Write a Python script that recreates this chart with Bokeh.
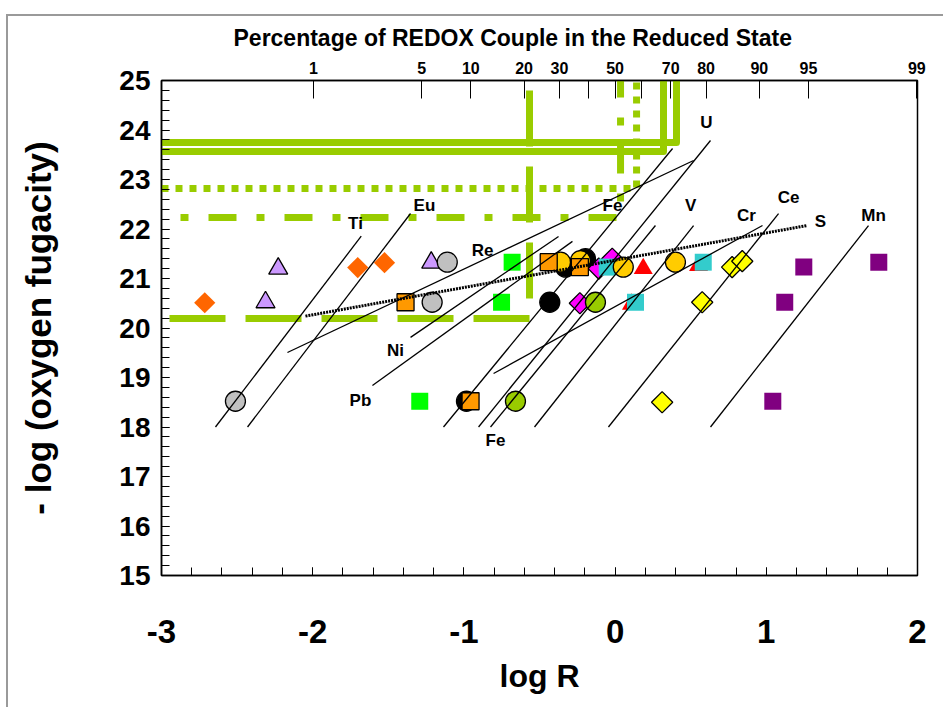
import numpy as np
from bokeh.plotting import figure
from bokeh.models import LinearAxis, FixedTicker, Range1d
from bokeh.core.properties import value
from bokeh.embed import file_html
from bokeh.resources import INLINE

FONT = "'Liberation Sans', Arial, sans-serif"

# ---------------- data ----------------
# bottom axis ticks
x_ticks = [-3, -2, -1, 0, 1, 2]
x_tick_labels = ["-3", "-2", "-1", "0", "1", "2"]
y_ticks = list(range(15, 26))

# top axis: percentage of couple in reduced state
pct_ticks = [1, 5, 10, 20, 30, 40, 50, 60, 70, 80, 90, 95, 99]
pct_labels = ["1", "5", "10", "20", "30", "", "50", "", "70", "80", "90", "95", "99"]

# redox couple lines (log R, -log fO2)
couple_names = ["Ti", "Eu", "Fe", "U", "Fe2", "V", "Ce", "Mn", "Re", "Ni", "Pb", "Cr"]
couple_x0 = [-2.643, -2.431, -1.135, -0.903, -0.824, -0.533, -0.044, 0.631, -2.167, -1.353, -1.605, -0.804]
couple_y0 = [18.0, 18.0, 18.0, 18.0, 18.0, 18.0, 18.0, 18.0, 19.505, 19.81, 18.84, 19.08]
couple_x1 = [-1.679, -1.353, 0.380, 0.631, 0.267, 0.519, 1.081, 1.676, 0.519, -0.374, -0.282, 0.975]
couple_y1 = [21.855, 22.313, 23.626, 23.788, 22.07, 22.07, 22.31, 22.07, 23.384, 21.85, 21.75, 22.07]

# sulfur couple (dotted)
s_x = [-2.048, 1.270]
s_y = [20.24, 22.07]

# element labels
lab_text = ["Ti", "Eu", "Re", "Ni", "Pb", "Fe", "Fe", "U", "V", "Cr", "Ce", "S", "Mn"]
lab_x = [-1.717, -1.261, -0.877, -1.452, -1.684, -0.791, -0.017, 0.604, 0.499, 0.869, 1.147, 1.358, 1.709]
lab_y = [22.11, 22.475, 21.566, 19.545, 18.535, 17.727, 22.475, 24.15, 22.475, 22.27, 22.636, 22.15, 22.27]

# green buffer reference lines
dbl_a_x = [-3.0, 0.406, 0.406]
dbl_a_y = [23.747, 23.747, 25.1]
dbl_b_x = [-3.0, 0.320, 0.320]
dbl_b_y = [23.566, 23.566, 25.1]
dot_x = [-3.0, 0.142, 0.142]
dot_y = [22.818, 22.818, 25.0]
dashdot_x = [-3.0, 0.036, 0.036]
dashdot_y = [22.232, 22.232, 25.0]
dash_x = [-2.947, -0.566, -0.566]
dash_y = [20.192, 20.192, 25.0]

# measured points
lav_tri_x = [-2.228, -2.312, -1.216]
lav_tri_y = [21.20, 20.52, 21.32]
orn_dia_x = [-2.714, -1.702, -1.525]
orn_dia_y = [20.51, 21.22, 21.32]
gray_x = [-1.110, -1.210, -2.511]
gray_y = [21.33, 20.52, 18.52]
grn_sq_x = [-0.681, -0.751, -1.292]
grn_sq_y = [21.33, 20.52, 18.52]
black_x = [-0.328, -0.196, -0.432, -0.983]
black_y = [21.23, 21.40, 20.52, 18.52]
gold_x = [-0.361, -0.229, 0.054, 0.399]
gold_y = [21.33, 21.36, 21.23, 21.33]
org_sq_x = [-1.386, -0.439, -0.233, -0.956]
org_sq_y = [20.52, 21.33, 21.23, 18.52]
mag_x = [-0.108, -0.019, -0.233]
mag_y = [21.20, 21.40, 20.50]
red_tri_x = [0.186, 0.552, 0.108]
red_tri_y = [21.20, 21.26, 20.48]
cyan_x = [-0.052, 0.583, 0.135]
cyan_y = [21.23, 21.33, 20.52]
olive_x = [-0.130, -0.659]
olive_y = [20.52, 18.52]
yel_x = [0.774, 0.841, 0.576, 0.311]
yel_y = [21.23, 21.35, 20.52, 18.50]
pur_x = [1.248, 1.744, 1.122, 1.043]
pur_y = [21.23, 21.33, 20.52, 18.52]

# ---------------- figure ----------------
p = figure(width=943, height=707, x_range=Range1d(-3, 2), y_range=Range1d(15, 25),
           output_backend="svg", toolbar_location=None,
           min_border_left=161, min_border_right=26, min_border_top=80, min_border_bottom=132,
           title="Percentage of REDOX Couple in the Reduced State")
p.grid.visible = False
p.outline_line_color = "black"
p.outline_line_width = 1.5
p.outline_line_alpha = 1.0
p.background_fill_color = "white"
p.border_fill_color = None
p.styles = {
    "background": "linear-gradient(#9a9a9a,#9a9a9a) 6px 14px / 937px 2px no-repeat, "
                  "linear-gradient(#9a9a9a,#9a9a9a) 6px 14px / 2px 693px no-repeat, #ffffff"
}

p.title.align = "left"
p.title.offset = 72
p.title.text_font = FONT
p.title.text_font_size = "23px"
p.title.text_font_style = "bold"
p.title.text_color = "black"
p.title.standoff = 15

# bottom axis
xa = p.xaxis[0]
xa.ticker = FixedTicker(ticks=x_ticks, minor_ticks=list(np.round(np.arange(-3, 2.001, 0.2), 3)))
xa.major_label_overrides = {t: s for t, s in zip(x_ticks, x_tick_labels)}
xa.major_tick_in = 8
xa.major_tick_out = 0
xa.minor_tick_in = 8
xa.minor_tick_out = 0
xa.major_label_standoff = 44
xa.major_label_text_font = FONT
xa.major_label_text_font_size = "33px"
xa.major_label_text_font_style = "bold"
xa.major_label_text_color = "black"
xa.axis_label = "log R"
xa.axis_label_text_font = FONT
xa.axis_label_text_font_size = "32px"
xa.axis_label_text_font_style = "bold"
xa.axis_label_text_color = "black"
xa.axis_label_standoff = 12
xa.axis_line_width = 1.5
xa.axis_line_color = "black"
xa.major_tick_line_color = "black"
xa.minor_tick_line_color = "black"

# left axis
ya = p.yaxis[0]
ya.ticker = FixedTicker(ticks=y_ticks, minor_ticks=list(np.round(np.arange(15, 25.001, 0.2), 3)))
ya.major_tick_in = 8
ya.major_tick_out = 0
ya.minor_tick_in = 8
ya.minor_tick_out = 0
ya.major_label_standoff = 11
ya.major_label_text_font = FONT
ya.major_label_text_font_size = "28px"
ya.major_label_text_font_style = "bold"
ya.major_label_text_color = "black"
ya.axis_label = "- log (oxygen fugacity)"
ya.axis_label_text_font = FONT
ya.axis_label_text_font_size = "35px"
ya.axis_label_text_font_style = "bold"
ya.axis_label_text_color = "black"
ya.axis_label_standoff = 58
ya.axis_line_width = 1.5
ya.axis_line_color = "black"
ya.major_tick_line_color = "black"
ya.minor_tick_line_color = "black"

# top axis (percentage)
pct_pos = [float(np.log10(v / (100.0 - v))) for v in pct_ticks]
top = LinearAxis(ticker=FixedTicker(ticks=pct_pos),
                 major_label_overrides={pos: lab for pos, lab in zip(pct_pos, pct_labels)})
top.major_tick_in = 18
top.major_tick_out = 0
top.minor_tick_in = 0
top.minor_tick_out = 0
top.major_label_standoff = 7
top.major_label_text_font = FONT
top.major_label_text_font_size = "16px"
top.major_label_text_font_style = "bold"
top.major_label_text_color = "black"
top.axis_line_width = 1.5
top.axis_line_color = "black"
top.major_tick_line_color = "black"
p.add_layout(top, "above")

GREEN = "#99CC00"
p.line(dbl_a_x, dbl_a_y, line_color=GREEN, line_width=7, line_cap="round", line_join="round")
p.line(dbl_b_x, dbl_b_y, line_color=GREEN, line_width=7, line_cap="round", line_join="round")
p.line(dot_x, dot_y, line_color=GREEN, line_width=7, line_dash="7 7", line_cap="butt")
p.line(dashdot_x, dashdot_y, line_color=GREEN, line_width=7, line_dash="28 20 8 20",
       line_dash_offset=29, line_cap="butt")
p.line(dash_x, dash_y, line_color=GREEN, line_width=7, line_dash="56 20", line_cap="butt")

# markers
OUT = dict(line_color="black", line_width=1.3)
DIA = np.pi / 4
p.scatter(lav_tri_x, lav_tri_y, marker="triangle", size=19, fill_color="#CC99FF", **OUT)
p.scatter(orn_dia_x, orn_dia_y, marker="square", angle=DIA, size=15, fill_color="#FF6600", line_color=None)
p.scatter(gray_x, gray_y, marker="circle", size=20, fill_color="#C0C0C0", **OUT)
p.scatter(grn_sq_x, grn_sq_y, marker="square", size=17, fill_color="#00FF00", line_color=None)
p.scatter(red_tri_x, red_tri_y, marker="triangle", size=19, fill_color="#FF0000", line_color=None)
p.scatter(black_x, black_y, marker="circle", size=20, fill_color="black", **OUT)
p.scatter(mag_x, mag_y, marker="square", angle=DIA, size=15, fill_color="#FF00FF", **OUT)
p.scatter(cyan_x, cyan_y, marker="square", size=17, fill_color="#33CCCC", line_color=None)
p.scatter(gold_x, gold_y, marker="circle", size=20, fill_color="#FFCC00", **OUT)
p.scatter(org_sq_x, org_sq_y, marker="square", size=17, fill_color="#FF9900", **OUT)
p.scatter(olive_x, olive_y, marker="circle", size=20, fill_color=GREEN, **OUT)
p.scatter(yel_x, yel_y, marker="square", angle=DIA, size=15, fill_color="#FFFF00", **OUT)
p.scatter(pur_x, pur_y, marker="square", size=17, fill_color="#800080", line_color=None)

# couple lines
p.segment(x0=couple_x0, y0=couple_y0, x1=couple_x1, y1=couple_y1, line_color="black", line_width=1.3)
p.line(s_x, s_y, line_color="black", line_width=3, line_dash="2 1")

p.text(x=lab_x, y=lab_y, text=lab_text, text_font=value(FONT), text_font_size="17px",
       text_font_style="bold", text_align="center", text_baseline="middle", text_color="black")

open("out.html", "w").write(file_html(p, INLINE))
